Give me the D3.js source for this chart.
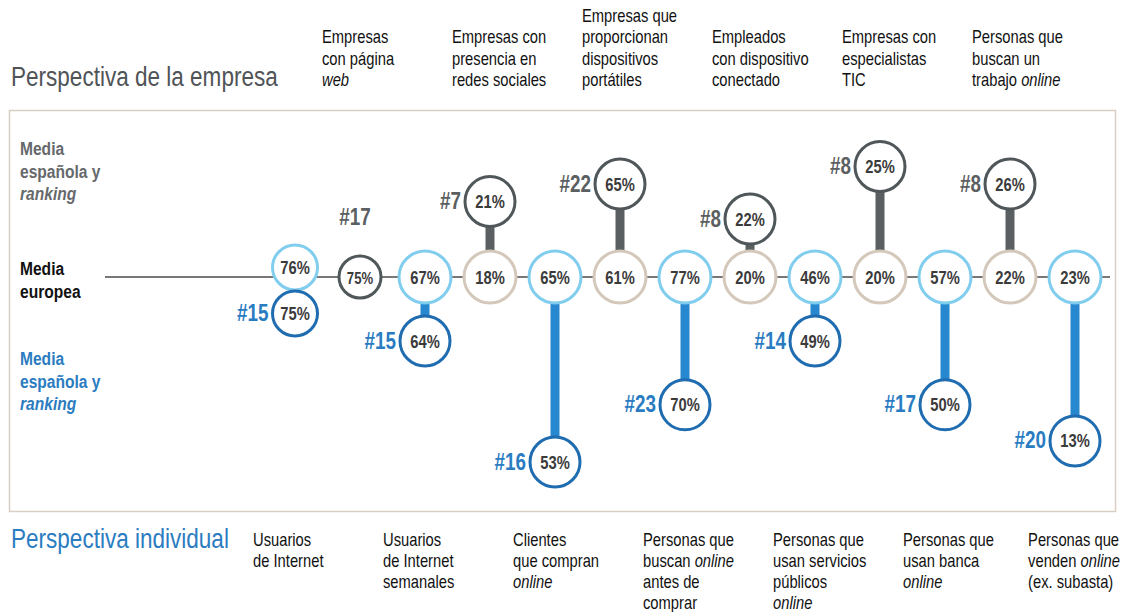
<!DOCTYPE html>
<html lang="es">
<head>
  <meta charset="UTF-8">
  <title>Perspectiva de la empresa / Perspectiva individual</title>
  <script src="https://d3js.org/d3.v7.min.js"></script>
  <style>
    body { margin: 0; background: #fff; }
    svg text { font-family: "Liberation Sans", Arial, sans-serif; }
    .val { font-size: 18px; font-weight: bold; fill: #3b3b3b; text-anchor: middle; }
    .rank { font-size: 23px; font-weight: bold; }
    .col { font-size: 18px; fill: #111; }
    .side { font-size: 19px; font-weight: bold; }
  </style>
</head>
<body>
  <div id="chart"></div>

  <script>
    // indicadores de izquierda a derecha (ind = perspectiva individual, emp = empresa)
    const kinds = ["ind", "emp", "ind", "emp", "ind", "emp", "ind", "emp", "ind", "emp", "ind", "emp", "ind"];
    const labels = [
      ["Usuarios", "de Internet"],
      ["Empresas", "con página", "_web_"],
      ["Usuarios", "de Internet", "semanales"],
      ["Empresas con", "presencia en", "redes sociales"],
      ["Clientes", "que compran", "_online_"],
      ["Empresas que", "proporcionan", "dispositivos", "portátiles"],
      ["Personas que", "buscan _online_", "antes de", "comprar"],
      ["Empleados", "con dispositivo", "conectado"],
      ["Personas que", "usan servicios", "públicos", "_online_"],
      ["Empresas con", "especialistas", "TIC"],
      ["Personas que", "usan banca", "_online_"],
      ["Personas que", "buscan un", "trabajo _online_"],
      ["Personas que", "venden _online_", "(ex. subasta)"]
    ];
    const mediaEuropea = [76, 75, 67, 18, 65, 61, 77, 20, 46, 20, 57, 22, 23];
    const mediaEspana  = [75, 75, 64, 21, 53, 65, 70, 22, 49, 25, 50, 26, 13];
    const ranking      = [15, 17, 15, 7, 16, 22, 23, 8, 14, 8, 17, 8, 20];

    const data = kinds.map((k, i) => ({
      i, kind: k, lines: labels[i], eu: mediaEuropea[i], es: mediaEspana[i], rank: ranking[i]
    }));

    const W = 1123, H = 612;
    const lineY = 277;
    const narrow = 0.82; // no hay fuente estrecha instalada: se comprime en horizontal
    const colors = {
      euInd: "#80cdee", euEmp: "#d4c8bb",
      esInd: "#1f6db0", esEmp: "#50575a",
      stemInd: "#2787cf", stemEmp: "#5a5f61",
      rankInd: "#2a7cc2", rankEmp: "#5b5f61"
    };

    const svg = d3.select("#chart").append("svg")
      .attr("width", W).attr("height", H);

    const x = d3.scalePoint()
      .domain(data.map(d => d.i))
      .range([295, 1075]);

    // distancia de la media española respecto a la línea europea, según la diferencia en puntos
    const gapEmp = d3.scaleLinear().domain([0, 5]).range([23, 110.5]);
    const gapInd = d3.scaleSqrt().domain([3, 12]).range([64, 185]);

    // marco
    svg.append("rect")
      .attr("x", 9.5).attr("y", 110.5)
      .attr("width", 1106).attr("height", 401)
      .attr("fill", "none")
      .attr("stroke", "#d9cec3")
      .attr("stroke-width", 1.5);

    // títulos
    svg.append("text")
      .attr("x", 11).attr("y", 86)
      .style("font-size", "27.5px").attr("fill", "#505457")
      .text("Perspectiva de la empresa");
    svg.append("text")
      .attr("x", 11).attr("y", 548)
      .style("font-size", "27.5px").attr("fill", "#2b7cc1")
      .text("Perspectiva individual");

    // etiquetas laterales
    const side = [
      { lines: ["Media", "española y", "_ranking_"], y: 155, color: "#66696b" },
      { lines: ["Media", "europea"], y: 275, color: "#111" },
      { lines: ["Media", "española y", "_ranking_"], y: 365, color: "#2b7cc1" }
    ];

    function writeLine(sel, str) {
      str.split(/(_[^_]+_)/).filter(s => s.length).forEach(part => {
        const it = part.startsWith("_");
        sel.append("tspan")
          .style("font-style", it ? "italic" : "normal")
          .text(it ? part.slice(1, -1) : part);
      });
    }

    side.forEach(s => {
      s.lines.forEach((ln, j) => {
        const t = svg.append("text").attr("class", "side")
          .attr("x", 20).attr("y", s.y + j * 22.5)
          .attr("fill", s.color);
        writeLine(t, ln);
      });
    });

    // línea de la media europea
    svg.append("line")
      .attr("x1", 105).attr("x2", 1110)
      .attr("y1", lineY).attr("y2", lineY)
      .attr("stroke", "#4a4a4a").attr("stroke-width", 1.3);

    // geometría de cada indicador
    data.forEach(d => {
      d.cx = x(d.i);
      const diff = Math.abs(d.eu - d.es);
      d.same = d.eu === d.es;
      d.compact = diff <= 1;
      const emp = d.kind === "emp";
      if (d.same) {
        d.rEs = 21; d.esY = lineY;
      } else if (d.compact) {
        d.rEu = 22.5; d.rEs = 22.5;
        d.euY = lineY - 9.5;
        d.esY = d.euY + 2 * d.rEu + 1;
      } else {
        d.rEu = 26; d.rEs = 25;
        d.euY = lineY;
        d.esY = lineY + (emp ? -gapEmp(diff) : gapInd(diff));
      }
    });

    const g = svg.append("g");

    // tallos
    g.selectAll(".stem")
      .data(data.filter(d => !d.same && !d.compact))
      .join("line")
      .attr("class", "stem")
      .attr("x1", d => d.cx).attr("x2", d => d.cx)
      .attr("y1", d => d.euY).attr("y2", d => d.esY)
      .attr("stroke", d => d.kind === "emp" ? colors.stemEmp : colors.stemInd)
      .attr("stroke-width", 9);

    // círculos media europea
    const eu = data.filter(d => !d.same);
    g.selectAll(".eu")
      .data(eu)
      .join("circle")
      .attr("class", "eu")
      .attr("cx", d => d.cx).attr("cy", d => d.euY).attr("r", d => d.rEu)
      .attr("fill", "#fff")
      .attr("stroke", d => d.kind === "emp" ? colors.euEmp : colors.euInd)
      .attr("stroke-width", 3);

    g.selectAll(".euv")
      .data(eu)
      .join("text")
      .attr("class", "val")
      .attr("x", d => d.cx).attr("y", d => d.euY + 6.5)
      .text(d => d.eu + "%");

    // círculos media española
    g.selectAll(".es")
      .data(data)
      .join("circle")
      .attr("class", "es")
      .attr("cx", d => d.cx).attr("cy", d => d.esY).attr("r", d => d.rEs)
      .attr("fill", "#fff")
      .attr("stroke", d => d.kind === "emp" ? colors.esEmp : colors.esInd)
      .attr("stroke-width", 3);

    g.selectAll(".esv")
      .data(data)
      .join("text")
      .attr("class", "val")
      .style("font-size", d => d.same ? "16px" : null)
      .attr("x", d => d.cx).attr("y", d => d.esY + 6.5)
      .text(d => d.es + "%");

    // ranking
    g.selectAll(".rank")
      .data(data)
      .join("text")
      .attr("class", "rank")
      .attr("fill", d => d.kind === "emp" ? colors.rankEmp : colors.rankInd)
      .attr("text-anchor", d => d.same ? "middle" : "end")
      .attr("x", d => d.same ? d.cx - 5 : d.cx - d.rEs - 4)
      .attr("y", d => d.same ? d.esY - d.rEs - 31 : d.esY + 7.5)
      .text(d => "#" + d.rank);

    // etiquetas de columna (bloque alineado a la izquierda, sin salirse por la derecha)
    data.forEach(d => {
      const n = d.lines.length;
      const texts = d.lines.map((ln, j) => {
        const t = svg.append("text").attr("class", "col")
          .attr("y", d.kind === "emp" ? 86 - (n - 1 - j) * 21.5 : 546 + j * 21);
        writeLine(t, ln);
        return t;
      });
      const maxW = d3.max(texts, t => t.node().getComputedTextLength()) * narrow;
      const x0 = Math.min(d.kind === "emp" ? d.cx - 38 : d.cx - 42, W - 3 - maxW);
      texts.forEach(t => t.attr("x", x0));
    });

    // compresión horizontal de todos los textos alrededor de su punto de anclaje
    svg.selectAll("text").each(function () {
      const t = d3.select(this);
      const tx = +t.attr("x"), ty = +t.attr("y");
      t.attr("x", 0).attr("y", 0)
        .attr("transform", `translate(${tx},${ty}) scale(${narrow},1)`);
    });
  </script>
</body>
</html>
